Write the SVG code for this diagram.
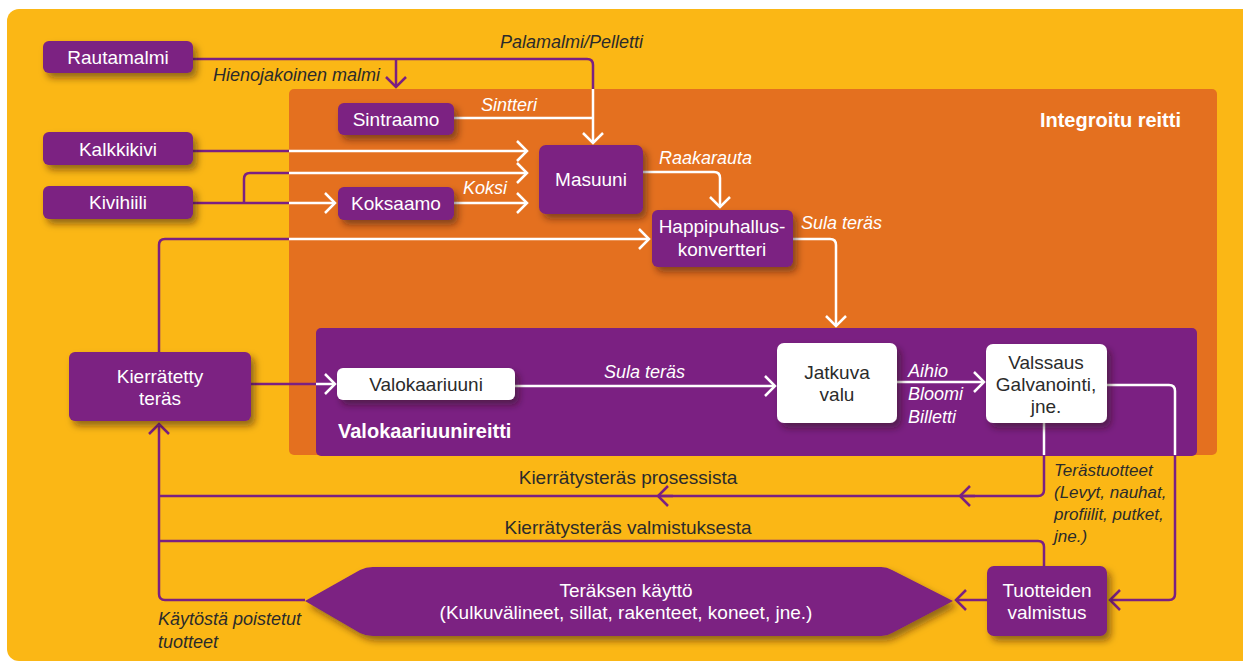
<svg xmlns="http://www.w3.org/2000/svg" width="1243" height="662" viewBox="0 0 1243 662">
<style>
.node{fill:#7B2082;}
.wnode{fill:#FFFFFF;}
.t{font-family:"Liberation Sans",Arial,sans-serif;font-size:19px;fill:#FFFFFF;text-anchor:middle;}
.td{font-family:"Liberation Sans",Arial,sans-serif;font-size:19px;fill:#2B2B2B;text-anchor:middle;}
.lw{font-family:"Liberation Sans",Arial,sans-serif;font-size:18px;font-style:italic;fill:#FFFFFF;}
.ld{font-family:"Liberation Sans",Arial,sans-serif;font-size:18px;font-style:italic;fill:#2B2B2B;}
.lp{font-family:"Liberation Sans",Arial,sans-serif;font-size:19px;fill:#2B2B2B;text-anchor:middle;}
.title{font-family:"Liberation Sans",Arial,sans-serif;font-size:20px;font-weight:bold;fill:#FFFFFF;}
.cw{fill:none;stroke:#FFFFFF;stroke-width:2.5;}
.cp{fill:none;stroke:#7B2082;stroke-width:2.5;}
</style>
<defs>
<filter id="sh" x="-20%" y="-20%" width="150%" height="160%">
<feDropShadow dx="4" dy="5" stdDeviation="3.5" flood-color="#2a0a10" flood-opacity="0.5"/>
</filter>
<marker id="aw" viewBox="-12 -12 14 24" refX="0" refY="0" markerWidth="14" markerHeight="24" markerUnits="userSpaceOnUse" orient="auto">
<path d="M-10,-10 L0,0 L-10,10" fill="none" stroke="#FFFFFF" stroke-width="2.5"/>
</marker>
<marker id="ap" viewBox="-12 -12 14 24" refX="0" refY="0" markerWidth="14" markerHeight="24" markerUnits="userSpaceOnUse" orient="auto">
<path d="M-10,-10 L0,0 L-10,10" fill="none" stroke="#7B2082" stroke-width="2.5"/>
</marker>
</defs>

<!-- background -->
<rect x="7" y="9" width="1260" height="652" rx="12" fill="#FBB715"/>
<rect id="integroitu" x="289" y="89" width="928" height="366" rx="5" fill="#E4701F"/>
<text class="title" x="1181" y="127" text-anchor="end">Integroitu reitti</text>
<rect id="valokaari-panel" x="316" y="328" width="881" height="128" rx="5" fill="#7B2082"/>
<text class="title" x="338" y="438">Valokaariuunireitti</text>

<!-- connectors -->
<g id="connectors">
<path class="cp" d="M193,59 H587 Q593,59 593,65 V89"/>
<path class="cw" d="M593,89 V143" marker-end="url(#aw)"/>
<path class="cp" d="M396,59 V87" marker-end="url(#ap)"/>
<path class="cw" d="M454,118 H593"/>
<path class="cp" d="M193,151 H289"/>
<path class="cw" d="M289,151 H527" marker-end="url(#aw)"/>
<path class="cp" d="M193,203 H289"/>
<path class="cw" d="M289,203 H335" marker-end="url(#aw)"/>
<path class="cp" d="M244,203 V179 Q244,173 250,173 H289"/>
<path class="cw" d="M289,173 H527" marker-end="url(#aw)"/>
<path class="cw" d="M454,203 H527" marker-end="url(#aw)"/>
<path class="cw" d="M643,172 H714 Q720,172 720,178 V207" marker-end="url(#aw)"/>
<path class="cp" d="M159,352 V245 Q159,239 165,239 H289"/>
<path class="cw" d="M289,239 H649" marker-end="url(#aw)"/>
<path class="cw" d="M793,239 H830 Q836,239 836,245 V326" marker-end="url(#aw)"/>
<path class="cp" d="M251,384 H316"/>
<path class="cw" d="M316,384 H335" marker-end="url(#aw)"/>
<path class="cw" d="M515,386 H775" marker-end="url(#aw)"/>
<path class="cw" d="M897,382 H984" marker-end="url(#aw)"/>
<path class="cw" d="M1107,385 H1169 Q1175,385 1175,391 V455"/>
<path class="cp" d="M1175,455 V594 Q1175,600 1169,600 H1110" marker-end="url(#ap)"/>
<path class="cw" d="M1044,423 V455"/>
<path class="cp" d="M1044,455 V490 Q1044,496 1038,496 H159"/>
<path class="cp" d="M975,496 H960" marker-end="url(#ap)"/>
<path class="cp" d="M673,496 H658" marker-end="url(#ap)"/>
<path class="cp" d="M1044,566 V547 Q1044,541 1038,541 H159"/>
<path class="cp" d="M987,600 H956" marker-end="url(#ap)"/>
<path class="cp" d="M305,600 H165 Q159,600 159,594 V424" marker-end="url(#ap)"/>
</g>

<!-- connector labels -->
<text class="ld" x="500" y="48">Palamalmi/Pelletti</text>
<text class="ld" x="380" y="81" text-anchor="end">Hienojakoinen malmi</text>
<text class="lw" x="481" y="111">Sintteri</text>
<text class="lw" x="463" y="194">Koksi</text>
<text class="lw" x="659" y="164">Raakarauta</text>
<text class="lw" x="801" y="229">Sula teräs</text>
<text class="lw" x="604" y="378">Sula teräs</text>
<text class="lw" x="908" y="377">Aihio</text>
<text class="lw" x="908" y="400">Bloomi</text>
<text class="lw" x="908" y="423">Billetti</text>
<text class="lp" x="628" y="484">Kierrätysteräs prosessista</text>
<text class="lp" x="628" y="534">Kierrätysteräs valmistuksesta</text>
<text class="ld" x="1054" y="476" style="font-size:17px">Terästuotteet</text>
<text class="ld" x="1054" y="498" style="font-size:17px">(Levyt, nauhat,</text>
<text class="ld" x="1054" y="520" style="font-size:17px">profiilit, putket,</text>
<text class="ld" x="1054" y="542" style="font-size:17px">jne.)</text>
<text class="ld" x="158" y="625">Käytöstä poistetut</text>
<text class="ld" x="158" y="648">tuotteet</text>

<!-- nodes -->
<g id="rautamalmi"><rect class="node" x="43" y="41" width="150" height="32" rx="6" filter="url(#sh)"/><text class="t" x="118" y="63.5">Rautamalmi</text></g>
<g id="kalkkikivi"><rect class="node" x="43" y="132" width="150" height="33" rx="6" filter="url(#sh)"/><text class="t" x="118" y="155.5">Kalkkikivi</text></g>
<g id="kivihiili"><rect class="node" x="43" y="186" width="150" height="33" rx="6" filter="url(#sh)"/><text class="t" x="118" y="209">Kivihiili</text></g>
<g id="sintraamo"><rect class="node" x="338" y="103" width="116" height="32" rx="6" filter="url(#sh)"/><text class="t" x="396" y="126">Sintraamo</text></g>
<g id="koksaamo"><rect class="node" x="338" y="187" width="116" height="33" rx="6" filter="url(#sh)"/><text class="t" x="396" y="210">Koksaamo</text></g>
<g id="masuuni"><rect class="node" x="539" y="145" width="104" height="69" rx="7" filter="url(#sh)"/><text class="t" x="591" y="186">Masuuni</text></g>
<g id="happipuhallus"><rect class="node" x="652" y="210" width="141" height="57" rx="6" filter="url(#sh)"/><text class="t" x="722" y="233">Happipuhallus-</text><text class="t" x="722" y="256">konvertteri</text></g>
<g id="kierratetty"><rect class="node" x="69" y="352" width="182" height="69" rx="6" filter="url(#sh)"/><text class="t" x="160" y="383">Kierrätetty</text><text class="t" x="160" y="405">teräs</text></g>
<g id="valokaariuuni"><rect class="wnode" x="337" y="368" width="178" height="32" rx="6" filter="url(#sh)"/><text class="td" x="426" y="391">Valokaariuuni</text></g>
<g id="jatkuva"><rect class="wnode" x="777" y="343" width="120" height="80" rx="7" filter="url(#sh)"/><text class="td" x="837" y="379">Jatkuva</text><text class="td" x="837" y="401">valu</text></g>
<g id="valssaus"><rect class="wnode" x="986" y="344" width="121" height="79" rx="7" filter="url(#sh)"/><text class="td" x="1046" y="369">Valssaus</text><text class="td" x="1046" y="391">Galvanointi,</text><text class="td" x="1046" y="413">jne.</text></g>
<g id="tuotteiden"><rect class="node" x="987" y="566" width="120" height="70" rx="7" filter="url(#sh)"/><text class="t" x="1047" y="597">Tuotteiden</text><text class="t" x="1047" y="619">valmistus</text></g>
<g id="teraksen-kaytto"><path class="node" d="M305,601 L360,570 Q366,567 373,567 H881 Q887,567 892,570 L953,601 L892,633 Q887,636 881,636 H373 Q366,636 360,633 Z" filter="url(#sh)"/><text class="t" x="626" y="597">Teräksen käyttö</text><text class="t" x="626" y="619">(Kulkuvälineet, sillat, rakenteet, koneet, jne.)</text></g>
</svg>
